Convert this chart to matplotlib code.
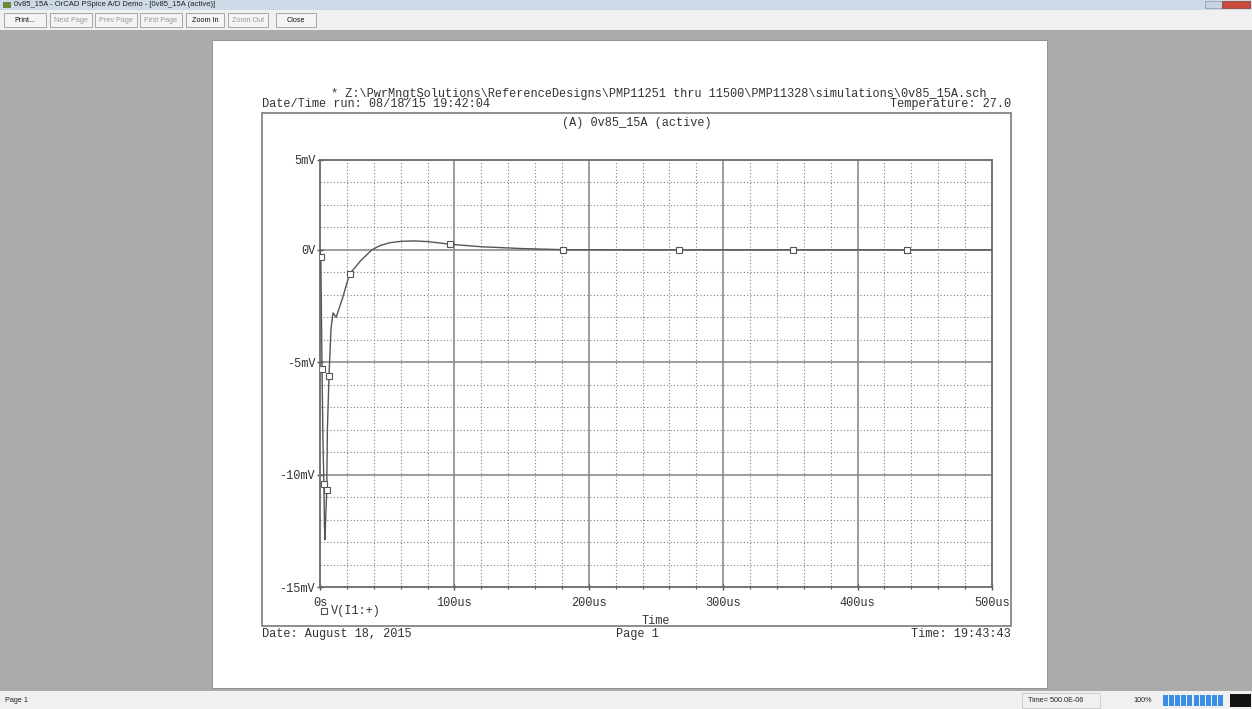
import numpy as np
import matplotlib.pyplot as plt
from matplotlib.patches import Rectangle
from matplotlib.ticker import MultipleLocator, FixedLocator

W, H = 1252, 709
MONO = 'Liberation Mono'
SANS = 'Liberation Sans'

# V(I1:+) transient response: time in us, voltage in mV
t_us = [0, 0.6, 1.0, 1.5, 2.2, 2.9, 3.3, 3.7, 4.2, 5.0, 5.5, 6.7, 8.2, 9.7, 12,
        17, 22, 30, 38.5, 45, 52, 60, 70, 80, 97, 120, 150, 181, 220, 267,
        300, 352, 400, 437, 500]
v_mv = [0, -0.3, -2.5, -5.3, -8.5, -10.4, -12.2, -12.9, -12.0, -10.7, -8.0,
        -5.6, -3.5, -2.8, -3.0, -2.1, -1.07, -0.5, 0.0, 0.2, 0.32, 0.38, 0.40,
        0.37, 0.25, 0.14, 0.06, 0.01, 0, 0, 0, 0, 0, 0, 0]
# points where PSpice puts its trace symbols
mark_t = [0.6, 1.5, 2.9, 5.0, 6.7, 22, 97, 181, 267, 352, 437]

x_ticks = [0, 100, 200, 300, 400, 500]
x_labels = ['0s', '100us', '200us', '300us', '400us', '500us']
y_ticks = [-15, -10, -5, 0, 4]
y_labels = ['-15mV', '-10mV', '-5mV', '0V', '5mV']


def fx(x):
    return x / W


def fy(y):
    return 1 - y / H


def box(fig, x0, y0, x1, y1, **kw):
    kw.setdefault('zorder', -1)
    r = Rectangle((fx(x0), fy(y1)), fx(x1) - fx(x0), fy(y0) - fy(y1),
                  transform=fig.transFigure, **kw)
    fig.patches.append(r)
    return r


def txt(fig, x, y, s, **kw):
    kw.setdefault('family', MONO)
    kw.setdefault('fontsize', 8.6)
    kw.setdefault('color', '#333333')
    kw.setdefault('va', 'center')
    fig.text(fx(x), fy(y), s, **kw)


fig = plt.figure(figsize=(W / 100, H / 100), dpi=100, facecolor='#ababab')

# window chrome
box(fig, 0, 0, W, 10, facecolor='#cdd9e6', edgecolor='none')
txt(fig, 14, 5, '0v85_15A - OrCAD PSpice A/D Demo - [0v85_15A (active)]',
    family=SANS, fontsize=5.5, color='#222222')
box(fig, 3, 2, 11, 8, facecolor='#6a8a3a', edgecolor='none')
box(fig, 1205, 1, 1222, 8, facecolor='#c8d4e2', edgecolor='#8899aa', lw=0.5)
box(fig, 1222, 1, 1250, 8, facecolor='#c84a3a', edgecolor='#8a3a30', lw=0.5)
box(fig, 0, 10, W, 30, facecolor='#f0f0f0', edgecolor='none')
buttons = [(4, 46, 'Print...', '#111111'), (50, 92, 'Next Page', '#999999'),
           (95, 137, 'Prev Page', '#999999'), (140, 182, 'First Page', '#999999'),
           (186, 224, 'Zoom In', '#111111'), (228, 268, 'Zoom Out', '#999999'),
           (276, 316, 'Close', '#111111')]
for x0, x1, label, c in buttons:
    box(fig, x0, 13, x1, 27, facecolor='#f4f4f4', edgecolor='#9a9a9a', lw=0.6)
    txt(fig, (x0 + x1) / 2, 20, label, family=SANS, fontsize=5.2, color=c,
        ha='center')
box(fig, 0, 691, W, H, facecolor='#f0f0f0', edgecolor='none')
txt(fig, 5, 701, 'Page 1', family=SANS, fontsize=5.2, color='#222222')
box(fig, 1022, 693, 1100, 708, facecolor='none', edgecolor='#c0c0c0', lw=0.5)
txt(fig, 1028, 701, 'Time= 500.0E-06', family=SANS, fontsize=5.2,
    color='#222222')
txt(fig, 1133, 701, '100%', family=SANS, fontsize=5.2, color='#222222')
for i in range(10):
    box(fig, 1163 + i * 6.1, 695, 1168 + i * 6.1, 706,
        facecolor='#3a8ee6', edgecolor='none')
box(fig, 1230, 694, 1251, 707, facecolor='#111111', edgecolor='none')

# printed page
box(fig, 212, 40, 1047, 688, facecolor='white', edgecolor='#888888', lw=0.6)
box(fig, 262, 113, 1011, 626, facecolor='none', edgecolor='#7a7a7a', lw=1.2,
    zorder=1)

txt(fig, 331, 94, '* Z:\\PwrMngtSolutions\\ReferenceDesigns\\PMP11251 thru '
    '11500\\PMP11328\\simulations\\0v85_15A.sch')
txt(fig, 262, 104, 'Date/Time run: 08/18/15 19:42:04')
txt(fig, 1011, 104, 'Temperature: 27.0', ha='right')
txt(fig, 637, 123, '(A) 0v85_15A (active)', ha='center')
txt(fig, 331, 611, 'V(I1:+)')
txt(fig, 656, 621, 'Time', ha='center')
txt(fig, 262, 634, 'Date: August 18, 2015')
txt(fig, 637, 634, 'Page 1', ha='center')
txt(fig, 1011, 634, 'Time: 19:43:43', ha='right')
fig.lines.append(plt.Line2D([fx(324)], [fy(611)], transform=fig.transFigure,
                            marker='s', ms=4, mfc='white', mec='#555555',
                            mew=0.8, ls='none'))

# plot area
ax = fig.add_axes([fx(320), fy(587), fx(992) - fx(320), fy(160) - fy(587)])
ax.set_zorder(2)
ax.set_facecolor('white')
ax.set_xlim(0, 500)
ax.set_ylim(-15, 4)

for x in range(20, 500, 20):
    if x % 100:
        ax.axvline(x, color='#808080', lw=0.8, ls=(0, (1, 2)), zorder=1)
    else:
        ax.axvline(x, color='#8c8c8c', lw=1.2, zorder=1)
for y in range(-14, 4):
    if y % 5:
        ax.axhline(y, color='#808080', lw=0.8, ls=(0, (1, 2)), zorder=1)
    else:
        ax.axhline(y, color='#8c8c8c', lw=1.2, zorder=1)

idx = [t_us.index(t) for t in mark_t]
ax.plot(t_us, v_mv, color='#555555', lw=1.0, zorder=3,
        marker='s', ms=4, mfc='white', mec='#555555', mew=0.8, markevery=idx)

for s in ax.spines.values():
    s.set_color('#6a6a6a')
    s.set_linewidth(1.3)

ax.xaxis.set_major_locator(FixedLocator(x_ticks))
ax.set_xticklabels(x_labels)
ax.xaxis.set_minor_locator(MultipleLocator(20))
ax.yaxis.set_major_locator(FixedLocator(y_ticks))
ax.set_yticklabels(y_labels)
ax.tick_params(axis='both', which='major', direction='inout', length=5,
               width=1.0, color='#555555', labelsize=8.6, labelcolor='#333333')
ax.tick_params(axis='x', which='major', pad=5)
ax.tick_params(axis='y', which='major', pad=1)
ax.tick_params(axis='x', which='minor', direction='inout', length=3,
               width=0.8, color='#555555')
for lab in ax.get_xticklabels() + ax.get_yticklabels():
    lab.set_family(MONO)

fig.savefig('out.png', dpi=100, facecolor=fig.get_facecolor())
